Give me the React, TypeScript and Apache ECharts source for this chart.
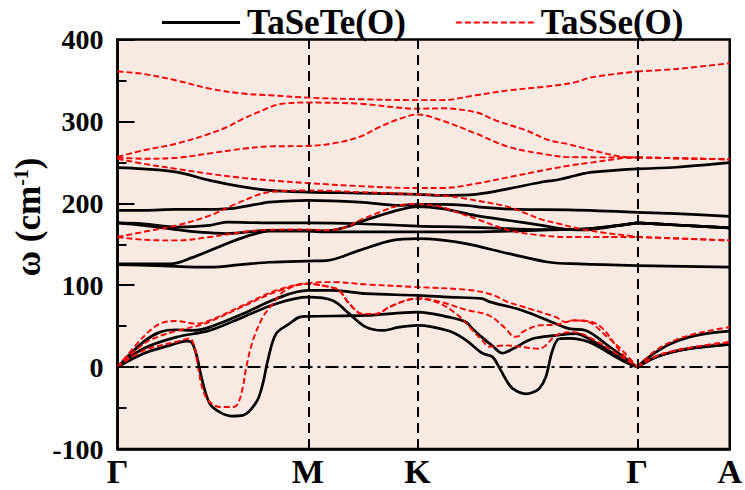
import React, { useEffect, useRef } from "react";
import * as echarts from "echarts";

// High-symmetry path: labels and cumulative k-path distances
const kLabels = ["Γ", "M", "K", "Γ", "A"];
const kNodes = [0, 0.5774, 0.9107, 1.5774, 1.8583];

// Bands: [segment coordinate s (0=Γ,1=M,2=K,3=Γ,4=A), ω in cm^-1]
const taSeTeB1 = [[0,243.5],[0.135,242],[0.312,238],[0.485,228],[0.659,220],[0.799,215.7],[1,213.7],[1.47,212.5],[2,211],[2.112,209.6],[2.267,211],[2.417,218],[2.567,226],[2.645,229],[2.72,234],[2.797,238],[3,242],[3.42,244],[4,249.6]];
const taSeTeB2 = [[0,191.3],[0.135,191.3],[0.312,192.5],[0.485,192.5],[0.589,193.4],[0.747,199.5],[0.799,201.5],[1,203.5],[1.47,201.5],[1.834,197.4],[2,198.7],[2.112,198.7],[2.22,197.5],[2.3,195],[2.462,192.5],[2.69,192],[3,189],[3.42,187.3],[4,184]];
const taSeTeB3 = [[0,176],[0.135,173],[0.312,167.8],[0.415,165],[0.574,163],[0.799,167],[1,167],[1.17,166.5],[1.352,171],[1.47,177],[1.652,185],[1.834,192],[2,196],[2.112,193.4],[2.267,185],[2.417,179],[2.567,173],[2.69,168],[2.75,167.5],[2.871,171],[3,176],[3.42,173.5],[4,170]];
const taSeTeB4 = [[0,176],[0.135,175],[0.312,171],[0.485,173],[0.574,177],[0.799,176],[1,176],[1.47,175],[2,172.2],[2.22,171],[2.417,169],[2.6,167.8],[2.75,168.5],[2.871,171.5],[3,176],[3.42,173.5],[4,170]];
const taSeTeB5 = [[0,126],[0.275,126],[0.396,134],[0.574,150.7],[0.694,160.8],[0.799,166],[1,166],[1.17,165],[1.5,165],[2,165],[2.22,165],[2.417,166],[2.6,167.5],[2.75,168.5],[2.871,171.5],[3,176],[3.42,173.5],[4,170]];
const taSeTeB6 = [[0,125],[0.2,124],[0.485,122],[0.659,125.4],[0.799,128],[1,129.5],[1.17,130],[1.47,142.5],[1.77,154.7],[2,156.8],[2.112,155],[2.22,150.7],[2.417,138.5],[2.6,128],[2.735,126],[3,124],[4,122]];
const taSeTeA1 = [[0,0],[0.135,30.5],[0.223,42.7],[0.31,45.6],[0.396,44.8],[0.485,48.8],[0.659,65],[0.834,83.5],[1,93.6],[1.227,93.6],[1.531,89.6],[2,87.6],[2.144,85.5],[2.295,83.5],[2.326,80],[2.477,69.2],[2.63,53],[2.69,46.9],[2.766,44.8],[2.856,28.5],[3,0],[3.1,10],[3.2,18],[3.35,28],[3.56,36.6],[3.78,41.5],[4,44]];
const taSeTeA2 = [[0,0],[0.135,22.4],[0.31,36.6],[0.485,44.8],[0.659,61],[0.834,77.4],[1,85.5],[1.227,81.4],[1.379,65],[1.531,48.8],[1.682,44.8],[1.834,48.8],[2,50.9],[2.144,44],[2.22,33],[2.295,17],[2.341,12.5],[2.371,0],[2.402,-15],[2.432,-26],[2.493,-32.6],[2.523,-31],[2.553,-26.5],[2.584,-12],[2.614,20],[2.645,34.6],[2.69,35],[2.78,30.5],[2.932,8],[3,0],[3.1,6.5],[3.2,12],[3.35,17.5],[3.56,22.5],[3.78,25.5],[4,27.7]];
const taSeTeA3 = [[0,0],[0.135,16.4],[0.275,26.5],[0.363,31.8],[0.389,30.5],[0.418,12.2],[0.441,-12.2],[0.485,-44.7],[0.537,-55],[0.599,-59.8],[0.659,-59],[0.73,-42.7],[0.764,-20.3],[0.79,8.2],[0.834,40.8],[0.904,53],[0.956,61],[1,62],[1.531,63.1],[2,67.2],[2.144,61],[2.22,55],[2.25,47],[2.295,36],[2.341,26],[2.386,17],[2.432,22],[2.523,34.6],[2.63,38.7],[2.72,40.8],[2.78,34.6],[2.932,10],[3,0],[3.1,6.5],[3.2,12],[3.35,17.5],[3.56,22.5],[3.78,25.5],[4,27.7]];

const taSSeB1 = [[0,361],[0.135,358],[0.31,350],[0.485,340],[0.659,334],[0.799,332],[1,329],[1.5,327],[2,326],[2.112,326],[2.267,332],[2.417,338],[2.567,342],[2.645,344.5],[2.72,348],[2.797,354],[3,361],[3.42,364],[4,371]];
const taSSeB2 = [[0,256.5],[0.135,264.6],[0.312,273],[0.485,285],[0.574,293],[0.659,303],[0.747,312],[0.852,321],[1,323],[1.47,321.6],[2,315.5],[2.112,316],[2.267,311],[2.358,301],[2.494,289],[2.599,277],[2.69,272],[2.797,264.6],[2.949,256.4],[3,256],[4,253.6]];
const taSSeB3 = [[0,256],[0.135,254.4],[0.312,255.6],[0.485,261],[0.659,266.6],[0.799,269.5],[1,270],[1.227,273],[1.47,281],[1.652,293],[1.834,303],[2,308.5],[2.112,301],[2.267,285],[2.417,268.6],[2.567,260.5],[2.69,256.4],[3,256],[4,253.6]];
const taSSeB4 = [[0,254.4],[0.135,248.3],[0.312,242],[0.485,236],[0.659,231],[0.799,228],[1,224.7],[1.47,221],[2,218.6],[2.112,218.6],[2.267,224],[2.417,232],[2.567,240],[2.69,246],[2.797,250],[2.949,255.5],[3,256],[4,253.6]];
const taSSeB5 = [[0,158.8],[0.135,165],[0.312,173],[0.485,185],[0.624,199.5],[0.799,213.7],[1,215.7],[1.47,213.7],[2,211],[2.112,209.6],[2.22,205.6],[2.417,195.4],[2.5,187],[2.567,180],[2.645,175],[2.735,169],[2.85,164],[2.949,160.8],[3,159],[4,154.7]];
const taSSeB6 = [[0,158.8],[0.135,155.5],[0.312,154.7],[0.485,158.8],[0.659,165],[0.799,167.7],[1,168],[1.17,167],[1.352,171],[1.47,179],[1.652,189],[1.834,197.4],[2,199],[2.099,196],[2.19,188],[2.267,181],[2.358,172],[2.417,167],[2.523,162],[2.69,158.8],[3,158.8],[4,154.7]];
const taSSeA1 = [[0,0],[0.135,36.6],[0.223,53],[0.31,56.2],[0.38,53.8],[0.415,53],[0.485,57],[0.659,75.3],[0.834,93.6],[1,102.6],[1.227,103.8],[1.531,101],[2,97.7],[2.22,94.5],[2.326,89.6],[2.417,79],[2.477,74],[2.63,61],[2.675,55],[2.705,57],[2.78,55],[2.856,38.7],[2.932,20.4],[3,0],[3.1,11],[3.2,20.4],[3.35,30],[3.56,38.7],[3.78,44.5],[4,48.8]];
const taSSeA2 = [[0,0],[0.135,28],[0.223,38],[0.31,44],[0.415,50],[0.485,55.5],[0.659,74],[0.834,92],[1,101.5],[1.227,97],[1.288,93.6],[1.379,77.4],[1.5,65],[1.622,65],[1.743,73.3],[1.895,81.4],[2,83.5],[2.099,78],[2.19,62],[2.25,45],[2.295,32.6],[2.326,25],[2.402,26.5],[2.477,24.4],[2.553,22.4],[2.584,26.5],[2.63,38.7],[2.705,42.7],[2.78,36.6],[2.932,12],[3,0],[3.1,7],[3.2,13],[3.35,18.5],[3.56,23.5],[3.78,27.5],[4,30.5]];
const taSSeA3 = [[0,0],[0.135,20],[0.31,31],[0.363,34.5],[0.38,35],[0.406,24.4],[0.423,0],[0.45,-28.5],[0.485,-42.7],[0.546,-48.8],[0.607,-48.8],[0.633,-44.7],[0.659,-24.4],[0.677,0],[0.712,32.6],[0.764,61],[0.817,77.4],[0.869,91.6],[0.939,99.8],[1,101.8],[1.227,97],[1.288,93.6],[1.379,77.4],[1.5,65],[1.622,65],[1.743,73.3],[1.895,81.4],[2,84],[2.099,80],[2.22,70],[2.326,63],[2.402,47],[2.44,37],[2.462,38],[2.477,42.7],[2.553,50.9],[2.63,51.8],[2.72,57],[2.826,51],[2.932,16],[3,0],[3.1,7],[3.2,13],[3.35,18.5],[3.56,23.5],[3.78,27.5],[4,30.5]];

const taSeTeBands = [taSeTeB1, taSeTeB2, taSeTeB3, taSeTeB4, taSeTeB5, taSeTeB6, taSeTeA1, taSeTeA2, taSeTeA3];
const taSSeBands = [taSSeB1, taSSeB2, taSSeB3, taSSeB4, taSSeB5, taSSeB6, taSSeA1, taSSeA2, taSSeA3];

const yMin = -100;
const yMax = 400;
const yStep = 100;

const FONT = "'Liberation Serif', 'Times New Roman', serif";
const NAME_A = "TaSeTe(O)";
const NAME_B = "TaSSe(O)";

// legend icons: a solid bar and a row of dashes
const DASH_ICON =
  "path://" + Array.from({ length: 9 }, (_, i) => `M${i * 9},0h6v2h-6z`).join("");

const toK = (s: number) => {
  const i = Math.min(Math.floor(s), 3);
  return kNodes[i] + (s - i) * (kNodes[i + 1] - kNodes[i]);
};

const pieces = (band: number[][]) => [band.filter((p) => p[0] <= 3), band.filter((p) => p[0] >= 3)];

export default function App() {
  const ref = useRef<HTMLDivElement>(null);
  useEffect(() => {
    const chart = echarts.init(ref.current!, null, { renderer: "svg" });
    const series: any[] = [];
    series.push({
      type: "line",
      name: "_vref",
      data: [[0, 0]],
      symbol: "none",
      silent: true,
      lineStyle: { opacity: 0 },
      z: 1,
      markLine: {
        symbol: ["none", "none"],
        silent: true,
        animation: false,
        label: { show: false },
        lineStyle: { color: "#000", width: 2, type: [10, 6] },
        data: [{ xAxis: kNodes[1] }, { xAxis: kNodes[2] }, { xAxis: kNodes[3] }],
      },
    });
    series.push({
      type: "line",
      name: "_href",
      data: [[0, 0]],
      symbol: "none",
      silent: true,
      lineStyle: { opacity: 0 },
      z: 1,
      markLine: {
        symbol: ["none", "none"],
        silent: true,
        animation: false,
        label: { show: false },
        lineStyle: { color: "#000", width: 2, type: [13, 5, 3, 5] },
        data: [{ yAxis: 0 }],
      },
    });
    taSeTeBands.forEach((b) =>
      pieces(b).forEach((p) =>
        series.push({
          type: "line",
          name: NAME_A,
          data: p.map(([s, w]) => [toK(s), w]),
          symbol: "none",
          showSymbol: false,
          smooth: 0.35,
          color: "#000",
          lineStyle: { color: "#000", width: 2.7, type: "solid" },
          z: 2,
        })
      )
    );
    taSSeBands.forEach((b) =>
      pieces(b).forEach((p) =>
        series.push({
          type: "line",
          name: NAME_B,
          data: p.map(([s, w]) => [toK(s), w]),
          symbol: "none",
          showSymbol: false,
          smooth: 0.35,
          color: "#ff0000",
          lineStyle: { color: "#ff0000", width: 1.9, type: [6, 3] },
          z: 3,
        })
      )
    );

    chart.setOption({
      animation: false,
      backgroundColor: "#fff",
      grid: {
        left: 117.5,
        right: 14,
        top: 39.5,
        bottom: 41,
        show: true,
        backgroundColor: "#f8e9e3",
        borderColor: "#000",
        borderWidth: 2.5,
      },
      legend: {
        data: [
          { name: NAME_A, icon: "rect", itemStyle: { color: "#000", borderWidth: 0 } },
          { name: NAME_B, icon: DASH_ICON, itemStyle: { color: "#ff0000", borderWidth: 0 } },
        ],
        left: 157,
        top: 0,
        itemWidth: 78,
        itemHeight: 3,
        itemGap: 50,
        selectedMode: false,
        itemStyle: { borderWidth: 0 },
        lineStyle: { width: 0 },
        textStyle: { fontFamily: FONT, fontWeight: "bold", fontSize: 35, color: "#000", padding: [0, 0, 0, 2] },
      },
      xAxis: {
        type: "value",
        min: 0,
        max: kNodes[4],
        axisLine: { show: true, onZero: false, lineStyle: { color: "#000", width: 2.5 } },
        axisTick: { show: false },
        splitLine: { show: false },
        axisLabel: {
          customValues: kNodes,
          showMinLabel: true,
          showMaxLabel: true,
          hideOverlap: false,
          margin: 5,
          color: "#000",
          fontFamily: FONT,
          fontWeight: "bold",
          fontSize: 34,
          formatter: (v: number) => {
            const i = kNodes.findIndex((n) => Math.abs(n - v) < 1e-6);
            return i >= 0 ? kLabels[i] : "";
          },
        },
      },
      yAxis: {
        type: "value",
        min: yMin,
        max: yMax,
        interval: yStep,
        axisLine: { show: true, onZero: false, lineStyle: { color: "#000", width: 2.5 } },
        axisTick: { show: true, inside: true, length: 17, lineStyle: { color: "#000", width: 2 } },
        minorTick: { show: true, splitNumber: 2, length: 9, lineStyle: { color: "#000", width: 2 } },
        splitLine: { show: false },
        axisLabel: { color: "#000", fontFamily: FONT, fontWeight: "bold", fontSize: 28, margin: 14 },
      },
      graphic: [
        {
          type: "text",
          x: 28,
          y: 217,
          rotation: Math.PI / 2,
          style: {
            text: "{a|ω (cm}{s|-1}{a|)}",
            align: "center",
            verticalAlign: "middle",
            fill: "#000",
            rich: {
              a: { fontFamily: FONT, fontWeight: "bold", fontSize: 35, fill: "#000" },
              s: { fontFamily: FONT, fontWeight: "bold", fontSize: 20, fill: "#000", verticalAlign: "top" },
            },
          },
        },
      ],
      series,
    });
    return () => chart.dispose();
  }, []);
  return <div ref={ref} style={{ position: "fixed", left: 0, top: 0, width: 745, height: 490 }} />;
}
